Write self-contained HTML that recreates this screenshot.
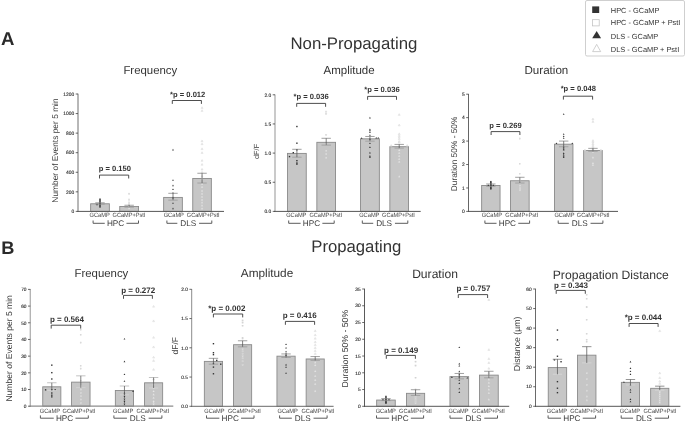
<!DOCTYPE html>
<html><head><meta charset="utf-8"><title>Figure</title>
<style>html,body{margin:0;padding:0;background:#fff;}svg{display:block;}</style></head><body>
<svg width="685" height="422" viewBox="0 0 685 422" text-rendering="geometricPrecision" font-family='"Liberation Sans", Arial, sans-serif'>
<rect width="685" height="422" fill="#fff"/>
<rect x="585.5" y="0.5" width="99" height="55.5" rx="1.5" fill="#fff" stroke="#cfcfcf" stroke-width="1"/>
<rect x="592.2" y="6.4" width="7" height="6.6" fill="#333"/>
<rect x="592.6" y="19.7" width="6.6" height="6.2" fill="#fff" stroke="#bdbdbd" stroke-width="0.7"/>
<path d="M592.2 38.3L601.1 38.3L596.65 30.9Z" fill="#333"/>
<path d="M592.6 51.6L600.7 51.6L596.65 44.4Z" fill="#fff" stroke="#bdbdbd" stroke-width="0.7"/>
<text x="610.8" y="12.6" font-size="7.42" text-anchor="start" font-weight="normal" fill="#333">HPC - GCaMP</text>
<text x="610.8" y="25.4" font-size="7.42" text-anchor="start" font-weight="normal" fill="#333">HPC - GCaMP + PstI</text>
<text x="610.8" y="38.7" font-size="7.42" text-anchor="start" font-weight="normal" fill="#333">DLS - GCaMP</text>
<text x="610.8" y="51.9" font-size="7.42" text-anchor="start" font-weight="normal" fill="#333">DLS - GCaMP + PstI</text>
<text x="0.9" y="45.1" font-size="18.6" text-anchor="start" font-weight="bold" fill="#2a2a2a">A</text>
<text x="1.3" y="253.9" font-size="18.2" text-anchor="start" font-weight="bold" fill="#2a2a2a">B</text>
<text x="353.9" y="49.2" font-size="16.8" text-anchor="middle" font-weight="normal" fill="#333">Non-Propagating</text>
<text x="356.3" y="251.7" font-size="16.7" text-anchor="middle" font-weight="normal" fill="#333">Propagating</text>
<rect x="90.65" y="203.78" width="18.70" height="7.62" fill="#c6c6c6" stroke="#8a8a8a" stroke-width="0.9"/>
<rect x="119.75" y="206.51" width="18.80" height="4.89" fill="#c6c6c6" stroke="#8a8a8a" stroke-width="0.9"/>
<rect x="163.65" y="197.42" width="18.70" height="13.98" fill="#c6c6c6" stroke="#8a8a8a" stroke-width="0.9"/>
<rect x="192.75" y="178.44" width="18.60" height="32.96" fill="#c6c6c6" stroke="#8a8a8a" stroke-width="0.9"/>
<rect x="99.30" y="198.47" width="1.4" height="1.4" fill="#333"/>
<rect x="99.30" y="199.45" width="1.4" height="1.4" fill="#333"/>
<rect x="99.30" y="200.43" width="1.4" height="1.4" fill="#333"/>
<rect x="99.30" y="201.41" width="1.4" height="1.4" fill="#333"/>
<rect x="99.30" y="202.38" width="1.4" height="1.4" fill="#333"/>
<rect x="99.30" y="203.36" width="1.4" height="1.4" fill="#333"/>
<rect x="99.30" y="204.34" width="1.4" height="1.4" fill="#333"/>
<rect x="99.30" y="205.32" width="1.4" height="1.4" fill="#333"/>
<rect x="99.30" y="206.30" width="1.4" height="1.4" fill="#333"/>
<rect x="96.30" y="203.85" width="1.4" height="1.4" fill="#333"/>
<rect x="128.50" y="193.14" width="1.3" height="1.3" fill="#f3f3f3" stroke="#d0d0d0" stroke-width="0.4"/>
<rect x="128.50" y="199.01" width="1.3" height="1.3" fill="#f3f3f3" stroke="#d0d0d0" stroke-width="0.4"/>
<rect x="128.50" y="201.94" width="1.3" height="1.3" fill="#f3f3f3" stroke="#d0d0d0" stroke-width="0.4"/>
<rect x="128.50" y="203.90" width="1.3" height="1.3" fill="#f3f3f3" stroke="#d0d0d0" stroke-width="0.4"/>
<rect x="128.50" y="204.88" width="1.3" height="1.3" fill="#f3f3f3" stroke="#d0d0d0" stroke-width="0.4"/>
<rect x="128.50" y="205.86" width="1.3" height="1.3" fill="#f3f3f3" stroke="#d0d0d0" stroke-width="0.4"/>
<rect x="128.50" y="206.84" width="1.3" height="1.3" fill="#f3f3f3" stroke="#d0d0d0" stroke-width="0.4"/>
<rect x="128.50" y="207.81" width="1.3" height="1.3" fill="#f3f3f3" stroke="#d0d0d0" stroke-width="0.4"/>
<path d="M172.10 150.46L173.90 150.46L173.00 148.86Z" fill="#333"/>
<path d="M172.10 180.79L173.90 180.79L173.00 179.19Z" fill="#333"/>
<path d="M172.10 186.17L173.90 186.17L173.00 184.57Z" fill="#333"/>
<path d="M172.10 190.09L173.90 190.09L173.00 188.49Z" fill="#333"/>
<path d="M172.10 193.51L173.90 193.51L173.00 191.91Z" fill="#333"/>
<path d="M172.10 198.40L173.90 198.40L173.00 196.80Z" fill="#333"/>
<path d="M172.10 203.78L173.90 203.78L173.00 202.18Z" fill="#333"/>
<path d="M172.10 209.16L173.90 209.16L173.00 207.56Z" fill="#333"/>
<path d="M201.05 108.45L203.05 108.45L202.05 106.70Z" fill="#f3f3f3" stroke="#d0d0d0" stroke-width="0.4"/>
<path d="M201.05 111.38L203.05 111.38L202.05 109.63Z" fill="#f3f3f3" stroke="#d0d0d0" stroke-width="0.4"/>
<path d="M201.05 141.71L203.05 141.71L202.05 139.96Z" fill="#f3f3f3" stroke="#d0d0d0" stroke-width="0.4"/>
<path d="M201.05 144.64L203.05 144.64L202.05 142.89Z" fill="#f3f3f3" stroke="#d0d0d0" stroke-width="0.4"/>
<path d="M201.05 149.54L203.05 149.54L202.05 147.79Z" fill="#f3f3f3" stroke="#d0d0d0" stroke-width="0.4"/>
<path d="M201.05 153.45L203.05 153.45L202.05 151.70Z" fill="#f3f3f3" stroke="#d0d0d0" stroke-width="0.4"/>
<path d="M201.05 161.28L203.05 161.28L202.05 159.53Z" fill="#f3f3f3" stroke="#d0d0d0" stroke-width="0.4"/>
<path d="M201.05 165.19L203.05 165.19L202.05 163.44Z" fill="#f3f3f3" stroke="#d0d0d0" stroke-width="0.4"/>
<path d="M201.05 170.08L203.05 170.08L202.05 168.33Z" fill="#f3f3f3" stroke="#d0d0d0" stroke-width="0.4"/>
<path d="M201.05 173.02L203.05 173.02L202.05 171.27Z" fill="#f3f3f3" stroke="#d0d0d0" stroke-width="0.4"/>
<path d="M201.05 176.93L203.05 176.93L202.05 175.18Z" fill="#f3f3f3" stroke="#d0d0d0" stroke-width="0.4"/>
<path d="M201.05 179.87L203.05 179.87L202.05 178.12Z" fill="#f3f3f3" stroke="#d0d0d0" stroke-width="0.4"/>
<path d="M201.05 184.76L203.05 184.76L202.05 183.01Z" fill="#f3f3f3" stroke="#d0d0d0" stroke-width="0.4"/>
<path d="M201.05 187.69L203.05 187.69L202.05 185.94Z" fill="#f3f3f3" stroke="#d0d0d0" stroke-width="0.4"/>
<path d="M201.05 191.61L203.05 191.61L202.05 189.86Z" fill="#f3f3f3" stroke="#d0d0d0" stroke-width="0.4"/>
<path d="M201.05 194.54L203.05 194.54L202.05 192.79Z" fill="#f3f3f3" stroke="#d0d0d0" stroke-width="0.4"/>
<path d="M201.05 197.47L203.05 197.47L202.05 195.72Z" fill="#f3f3f3" stroke="#d0d0d0" stroke-width="0.4"/>
<path d="M201.05 200.41L203.05 200.41L202.05 198.66Z" fill="#f3f3f3" stroke="#d0d0d0" stroke-width="0.4"/>
<path d="M201.05 203.34L203.05 203.34L202.05 201.59Z" fill="#f3f3f3" stroke="#d0d0d0" stroke-width="0.4"/>
<path d="M201.05 206.28L203.05 206.28L202.05 204.53Z" fill="#f3f3f3" stroke="#d0d0d0" stroke-width="0.4"/>
<path d="M201.05 209.22L203.05 209.22L202.05 207.47Z" fill="#f3f3f3" stroke="#d0d0d0" stroke-width="0.4"/>
<line x1="95.30" y1="202.79" x2="104.70" y2="202.79" stroke="#8a8a8a" stroke-width="0.8"/>
<line x1="95.30" y1="204.16" x2="104.70" y2="204.16" stroke="#9a9a9a" stroke-width="0.8"/>
<line x1="100.00" y1="204.16" x2="100.00" y2="202.79" stroke="#555" stroke-width="0.75"/>
<line x1="124.45" y1="205.24" x2="133.85" y2="205.24" stroke="#8a8a8a" stroke-width="0.8"/>
<line x1="124.45" y1="207.19" x2="133.85" y2="207.19" stroke="#9a9a9a" stroke-width="0.8"/>
<line x1="129.15" y1="207.19" x2="129.15" y2="205.24" stroke="#555" stroke-width="0.75"/>
<line x1="168.30" y1="193.30" x2="177.70" y2="193.30" stroke="#8a8a8a" stroke-width="0.8"/>
<line x1="168.30" y1="200.15" x2="177.70" y2="200.15" stroke="#9a9a9a" stroke-width="0.8"/>
<line x1="173.00" y1="200.15" x2="173.00" y2="193.30" stroke="#555" stroke-width="0.75"/>
<line x1="197.35" y1="173.25" x2="206.75" y2="173.25" stroke="#8a8a8a" stroke-width="0.8"/>
<line x1="197.35" y1="183.03" x2="206.75" y2="183.03" stroke="#9a9a9a" stroke-width="0.8"/>
<line x1="202.05" y1="183.03" x2="202.05" y2="173.25" stroke="#555" stroke-width="0.75"/>
<line x1="78" y1="93.7" x2="78" y2="211.9" stroke="#606060" stroke-width="0.9"/>
<line x1="77.55" y1="211.4" x2="224" y2="211.4" stroke="#555" stroke-width="1.0"/>
<line x1="75.70" y1="211.40" x2="78.00" y2="211.40" stroke="#444" stroke-width="0.8"/>
<text x="74.20" y="213.16" font-size="4.9" text-anchor="end" font-weight="normal" fill="#2e2e2e" stroke="#2e2e2e" stroke-width="0.12">0</text>
<line x1="75.70" y1="191.83" x2="78.00" y2="191.83" stroke="#444" stroke-width="0.8"/>
<text x="74.20" y="193.60" font-size="4.9" text-anchor="end" font-weight="normal" fill="#2e2e2e" stroke="#2e2e2e" stroke-width="0.12">200</text>
<line x1="75.70" y1="172.27" x2="78.00" y2="172.27" stroke="#444" stroke-width="0.8"/>
<text x="74.20" y="174.03" font-size="4.9" text-anchor="end" font-weight="normal" fill="#2e2e2e" stroke="#2e2e2e" stroke-width="0.12">400</text>
<line x1="75.70" y1="152.70" x2="78.00" y2="152.70" stroke="#444" stroke-width="0.8"/>
<text x="74.20" y="154.46" font-size="4.9" text-anchor="end" font-weight="normal" fill="#2e2e2e" stroke="#2e2e2e" stroke-width="0.12">600</text>
<line x1="75.70" y1="133.13" x2="78.00" y2="133.13" stroke="#444" stroke-width="0.8"/>
<text x="74.20" y="134.90" font-size="4.9" text-anchor="end" font-weight="normal" fill="#2e2e2e" stroke="#2e2e2e" stroke-width="0.12">800</text>
<line x1="75.70" y1="113.57" x2="78.00" y2="113.57" stroke="#444" stroke-width="0.8"/>
<text x="74.20" y="115.33" font-size="4.9" text-anchor="end" font-weight="normal" fill="#2e2e2e" stroke="#2e2e2e" stroke-width="0.12">1000</text>
<line x1="75.70" y1="94.00" x2="78.00" y2="94.00" stroke="#444" stroke-width="0.8"/>
<text x="74.20" y="95.76" font-size="4.9" text-anchor="end" font-weight="normal" fill="#2e2e2e" stroke="#2e2e2e" stroke-width="0.12">1200</text>
<text x="58.3" y="150.5" font-size="8.4" text-anchor="middle" font-weight="normal" fill="#3a3a3a" transform="rotate(-90 58.3 150.5)">Number of Events per 5 min</text>
<text transform="translate(99.70 217.25) scale(1 1.1)" font-size="5.7" text-anchor="middle" fill="#444">GCaMP</text>
<text transform="translate(129.00 217.25) scale(1 1.1)" font-size="5.6000000000000005" text-anchor="middle" fill="#444">GCaMP+PstI</text>
<text transform="translate(173.80 217.25) scale(1 1.1)" font-size="5.7" text-anchor="middle" fill="#444">GCaMP</text>
<text transform="translate(203.20 217.25) scale(1 1.1)" font-size="5.6000000000000005" text-anchor="middle" fill="#444">GCaMP+PstI</text>
<text x="115.60" y="225.7" font-size="8.2" text-anchor="middle" font-weight="normal" fill="#3a3a3a">HPC</text>
<path d="M93.10 220.50V223.30H104.74M126.46 223.30H138.50V220.50" fill="none" stroke="#4a4a4a" stroke-width="0.9"/>
<text x="188.20" y="225.7" font-size="8.2" text-anchor="middle" font-weight="normal" fill="#3a3a3a">DLS</text>
<path d="M166.90 220.50V223.30H177.34M199.06 223.30H211.80V220.50" fill="none" stroke="#4a4a4a" stroke-width="0.9"/>
<path d="M99.50 178.50V175.10H128.70V178.50" fill="none" stroke="#3a3a3a" stroke-width="0.9"/>
<text x="114.80" y="170.6" font-size="7.6" text-anchor="middle" font-weight="bold" fill="#333">p = 0.150</text>
<path d="M172.30 103.90V100.50H201.40V103.90" fill="none" stroke="#3a3a3a" stroke-width="0.9"/>
<text x="187.70" y="96.7" font-size="7.6" text-anchor="middle" font-weight="bold" fill="#333">*p = 0.012</text>
<text x="150.3" y="73.7" font-size="11.4" text-anchor="middle" font-weight="normal" fill="#333">Frequency</text>
<rect x="287.55" y="153.40" width="18.70" height="58.00" fill="#c6c6c6" stroke="#8a8a8a" stroke-width="0.9"/>
<rect x="316.85" y="142.32" width="18.70" height="69.08" fill="#c6c6c6" stroke="#8a8a8a" stroke-width="0.9"/>
<rect x="360.55" y="138.83" width="18.80" height="72.58" fill="#c6c6c6" stroke="#8a8a8a" stroke-width="0.9"/>
<rect x="389.85" y="146.70" width="18.70" height="64.70" fill="#c6c6c6" stroke="#8a8a8a" stroke-width="0.9"/>
<rect x="296.20" y="125.82" width="1.4" height="1.4" fill="#333"/>
<rect x="296.20" y="142.49" width="1.4" height="1.4" fill="#333"/>
<rect x="296.20" y="149.08" width="1.4" height="1.4" fill="#333"/>
<rect x="296.20" y="159.98" width="1.4" height="1.4" fill="#333"/>
<rect x="296.20" y="162.31" width="1.4" height="1.4" fill="#333"/>
<rect x="296.20" y="163.48" width="1.4" height="1.4" fill="#333"/>
<rect x="292.60" y="151.99" width="1.4" height="1.4" fill="#333"/>
<rect x="288.80" y="155.90" width="1.4" height="1.4" fill="#333"/>
<rect x="325.55" y="111.06" width="1.3" height="1.3" fill="#f3f3f3" stroke="#d0d0d0" stroke-width="0.4"/>
<rect x="325.55" y="113.39" width="1.3" height="1.3" fill="#f3f3f3" stroke="#d0d0d0" stroke-width="0.4"/>
<rect x="325.55" y="134.38" width="1.3" height="1.3" fill="#f3f3f3" stroke="#d0d0d0" stroke-width="0.4"/>
<rect x="325.55" y="143.71" width="1.3" height="1.3" fill="#f3f3f3" stroke="#d0d0d0" stroke-width="0.4"/>
<rect x="325.55" y="150.12" width="1.3" height="1.3" fill="#f3f3f3" stroke="#d0d0d0" stroke-width="0.4"/>
<rect x="325.55" y="153.32" width="1.3" height="1.3" fill="#f3f3f3" stroke="#d0d0d0" stroke-width="0.4"/>
<rect x="325.55" y="157.11" width="1.3" height="1.3" fill="#f3f3f3" stroke="#d0d0d0" stroke-width="0.4"/>
<path d="M369.05 118.41L370.85 118.41L369.95 116.81Z" fill="#333"/>
<path d="M369.05 130.19L370.85 130.19L369.95 128.59Z" fill="#333"/>
<path d="M369.05 131.35L370.85 131.35L369.95 129.75Z" fill="#333"/>
<path d="M369.05 132.99L370.85 132.99L369.95 131.39Z" fill="#333"/>
<path d="M369.05 135.73L370.85 135.73L369.95 134.13Z" fill="#333"/>
<path d="M369.05 139.81L370.85 139.81L369.95 138.21Z" fill="#333"/>
<path d="M369.05 144.12L370.85 144.12L369.95 142.52Z" fill="#333"/>
<path d="M369.05 147.97L370.85 147.97L369.95 146.37Z" fill="#333"/>
<path d="M369.05 153.39L370.85 153.39L369.95 151.79Z" fill="#333"/>
<path d="M369.05 156.72L370.85 156.72L369.95 155.12Z" fill="#333"/>
<path d="M369.05 157.88L370.85 157.88L369.95 156.28Z" fill="#333"/>
<path d="M360.75 138.82L362.55 138.82L361.65 137.22Z" fill="#333"/>
<path d="M375.35 138.53L377.15 138.53L376.25 136.93Z" fill="#333"/>
<path d="M377.35 138.53L379.15 138.53L378.25 136.93Z" fill="#333"/>
<path d="M398.20 115.37L400.20 115.37L399.20 113.62Z" fill="#f3f3f3" stroke="#d0d0d0" stroke-width="0.4"/>
<path d="M398.20 125.87L400.20 125.87L399.20 124.12Z" fill="#f3f3f3" stroke="#d0d0d0" stroke-width="0.4"/>
<path d="M398.20 134.61L400.20 134.61L399.20 132.86Z" fill="#f3f3f3" stroke="#d0d0d0" stroke-width="0.4"/>
<path d="M398.20 136.36L400.20 136.36L399.20 134.61Z" fill="#f3f3f3" stroke="#d0d0d0" stroke-width="0.4"/>
<path d="M398.20 138.11L400.20 138.11L399.20 136.36Z" fill="#f3f3f3" stroke="#d0d0d0" stroke-width="0.4"/>
<path d="M398.20 139.86L400.20 139.86L399.20 138.11Z" fill="#f3f3f3" stroke="#d0d0d0" stroke-width="0.4"/>
<path d="M398.20 142.19L400.20 142.19L399.20 140.44Z" fill="#f3f3f3" stroke="#d0d0d0" stroke-width="0.4"/>
<path d="M398.20 143.06L400.20 143.06L399.20 141.31Z" fill="#f3f3f3" stroke="#d0d0d0" stroke-width="0.4"/>
<path d="M398.20 150.94L400.20 150.94L399.20 149.19Z" fill="#f3f3f3" stroke="#d0d0d0" stroke-width="0.4"/>
<path d="M398.20 153.85L400.20 153.85L399.20 152.10Z" fill="#f3f3f3" stroke="#d0d0d0" stroke-width="0.4"/>
<path d="M398.20 156.77L400.20 156.77L399.20 155.02Z" fill="#f3f3f3" stroke="#d0d0d0" stroke-width="0.4"/>
<path d="M398.20 159.68L400.20 159.68L399.20 157.93Z" fill="#f3f3f3" stroke="#d0d0d0" stroke-width="0.4"/>
<path d="M398.20 162.59L400.20 162.59L399.20 160.84Z" fill="#f3f3f3" stroke="#d0d0d0" stroke-width="0.4"/>
<path d="M398.20 177.17L400.20 177.17L399.20 175.42Z" fill="#f3f3f3" stroke="#d0d0d0" stroke-width="0.4"/>
<path d="M390.20 146.27L392.20 146.27L391.20 144.52Z" fill="#f3f3f3" stroke="#d0d0d0" stroke-width="0.4"/>
<path d="M406.20 146.27L408.20 146.27L407.20 144.52Z" fill="#f3f3f3" stroke="#d0d0d0" stroke-width="0.4"/>
<line x1="292.20" y1="149.31" x2="301.60" y2="149.31" stroke="#8a8a8a" stroke-width="0.8"/>
<line x1="292.20" y1="157.18" x2="301.60" y2="157.18" stroke="#9a9a9a" stroke-width="0.8"/>
<line x1="296.90" y1="157.18" x2="296.90" y2="149.31" stroke="#555" stroke-width="0.75"/>
<line x1="321.50" y1="138.29" x2="330.90" y2="138.29" stroke="#8a8a8a" stroke-width="0.8"/>
<line x1="321.50" y1="145.11" x2="330.90" y2="145.11" stroke="#9a9a9a" stroke-width="0.8"/>
<line x1="326.20" y1="145.11" x2="326.20" y2="138.29" stroke="#555" stroke-width="0.75"/>
<line x1="365.25" y1="136.48" x2="374.65" y2="136.48" stroke="#8a8a8a" stroke-width="0.8"/>
<line x1="365.25" y1="141.15" x2="374.65" y2="141.15" stroke="#9a9a9a" stroke-width="0.8"/>
<line x1="369.95" y1="141.15" x2="369.95" y2="136.48" stroke="#555" stroke-width="0.75"/>
<line x1="394.50" y1="144.41" x2="403.90" y2="144.41" stroke="#8a8a8a" stroke-width="0.8"/>
<line x1="394.50" y1="148.09" x2="403.90" y2="148.09" stroke="#9a9a9a" stroke-width="0.8"/>
<line x1="399.20" y1="148.09" x2="399.20" y2="144.41" stroke="#555" stroke-width="0.75"/>
<line x1="275.0" y1="94.5" x2="275.0" y2="211.9" stroke="#b8b8b8" stroke-width="1.5"/>
<line x1="274.25" y1="211.4" x2="420.7" y2="211.4" stroke="#555" stroke-width="1.0"/>
<line x1="272.70" y1="211.40" x2="275.00" y2="211.40" stroke="#444" stroke-width="0.8"/>
<text x="271.20" y="213.16" font-size="4.9" text-anchor="end" font-weight="normal" fill="#2e2e2e" stroke="#2e2e2e" stroke-width="0.12">0.0</text>
<line x1="272.70" y1="182.25" x2="275.00" y2="182.25" stroke="#444" stroke-width="0.8"/>
<text x="271.20" y="184.01" font-size="4.9" text-anchor="end" font-weight="normal" fill="#2e2e2e" stroke="#2e2e2e" stroke-width="0.12">0.5</text>
<line x1="272.70" y1="153.10" x2="275.00" y2="153.10" stroke="#444" stroke-width="0.8"/>
<text x="271.20" y="154.86" font-size="4.9" text-anchor="end" font-weight="normal" fill="#2e2e2e" stroke="#2e2e2e" stroke-width="0.12">1.0</text>
<line x1="272.70" y1="123.95" x2="275.00" y2="123.95" stroke="#444" stroke-width="0.8"/>
<text x="271.20" y="125.71" font-size="4.9" text-anchor="end" font-weight="normal" fill="#2e2e2e" stroke="#2e2e2e" stroke-width="0.12">1.5</text>
<line x1="272.70" y1="94.80" x2="275.00" y2="94.80" stroke="#444" stroke-width="0.8"/>
<text x="271.20" y="96.56" font-size="4.9" text-anchor="end" font-weight="normal" fill="#2e2e2e" stroke="#2e2e2e" stroke-width="0.12">2.0</text>
<text x="258.9" y="151.45" font-size="7.4" text-anchor="middle" font-weight="normal" fill="#3a3a3a" transform="rotate(-90 258.9 151.45)">dF/F</text>
<text transform="translate(296.30 217.25) scale(1 1.1)" font-size="5.7" text-anchor="middle" fill="#444">GCaMP</text>
<text transform="translate(325.80 217.25) scale(1 1.1)" font-size="5.6000000000000005" text-anchor="middle" fill="#444">GCaMP+PstI</text>
<text transform="translate(369.30 217.25) scale(1 1.1)" font-size="5.7" text-anchor="middle" fill="#444">GCaMP</text>
<text transform="translate(398.50 217.25) scale(1 1.1)" font-size="5.6000000000000005" text-anchor="middle" fill="#444">GCaMP+PstI</text>
<text x="311.50" y="225.7" font-size="8.2" text-anchor="middle" font-weight="normal" fill="#3a3a3a">HPC</text>
<path d="M288.70 220.50V223.30H300.64M322.36 223.30H334.20V220.50" fill="none" stroke="#4a4a4a" stroke-width="0.9"/>
<text x="384.10" y="225.7" font-size="8.2" text-anchor="middle" font-weight="normal" fill="#3a3a3a">DLS</text>
<path d="M362.30 220.50V223.30H373.24M394.96 223.30H407.80V220.50" fill="none" stroke="#4a4a4a" stroke-width="0.9"/>
<path d="M296.70 106.80V103.40H325.60V106.80" fill="none" stroke="#3a3a3a" stroke-width="0.9"/>
<text x="311.10" y="99.2" font-size="7.6" text-anchor="middle" font-weight="bold" fill="#333">*p = 0.036</text>
<path d="M367.60 99.80V96.40H396.50V99.80" fill="none" stroke="#3a3a3a" stroke-width="0.9"/>
<text x="382.00" y="92.2" font-size="7.6" text-anchor="middle" font-weight="bold" fill="#333">*p = 0.036</text>
<text x="349.1" y="74.4" font-size="11.5" text-anchor="middle" font-weight="normal" fill="#333">Amplitude</text>
<rect x="481.65" y="185.45" width="18.40" height="25.95" fill="#c6c6c6" stroke="#8a8a8a" stroke-width="0.9"/>
<rect x="510.55" y="180.76" width="18.60" height="30.64" fill="#c6c6c6" stroke="#8a8a8a" stroke-width="0.9"/>
<rect x="554.45" y="144.19" width="18.50" height="67.21" fill="#c6c6c6" stroke="#8a8a8a" stroke-width="0.9"/>
<rect x="583.65" y="150.52" width="18.60" height="60.88" fill="#c6c6c6" stroke="#8a8a8a" stroke-width="0.9"/>
<rect x="490.15" y="180.93" width="1.4" height="1.4" fill="#333"/>
<rect x="490.15" y="181.87" width="1.4" height="1.4" fill="#333"/>
<rect x="490.15" y="182.81" width="1.4" height="1.4" fill="#333"/>
<rect x="490.15" y="183.74" width="1.4" height="1.4" fill="#333"/>
<rect x="490.15" y="184.68" width="1.4" height="1.4" fill="#333"/>
<rect x="490.15" y="185.62" width="1.4" height="1.4" fill="#333"/>
<rect x="490.15" y="186.56" width="1.4" height="1.4" fill="#333"/>
<rect x="490.15" y="187.49" width="1.4" height="1.4" fill="#333"/>
<rect x="490.15" y="188.20" width="1.4" height="1.4" fill="#333"/>
<rect x="487.65" y="184.68" width="1.4" height="1.4" fill="#333"/>
<rect x="492.65" y="184.68" width="1.4" height="1.4" fill="#333"/>
<rect x="519.20" y="137.92" width="1.3" height="1.3" fill="#f3f3f3" stroke="#d0d0d0" stroke-width="0.4"/>
<rect x="519.20" y="163.40" width="1.3" height="1.3" fill="#f3f3f3" stroke="#d0d0d0" stroke-width="0.4"/>
<rect x="519.20" y="173.25" width="1.3" height="1.3" fill="#f3f3f3" stroke="#d0d0d0" stroke-width="0.4"/>
<rect x="519.20" y="180.28" width="1.3" height="1.3" fill="#f3f3f3" stroke="#d0d0d0" stroke-width="0.4"/>
<rect x="519.20" y="182.62" width="1.3" height="1.3" fill="#f3f3f3" stroke="#d0d0d0" stroke-width="0.4"/>
<rect x="519.20" y="184.97" width="1.3" height="1.3" fill="#f3f3f3" stroke="#d0d0d0" stroke-width="0.4"/>
<rect x="519.20" y="187.31" width="1.3" height="1.3" fill="#f3f3f3" stroke="#d0d0d0" stroke-width="0.4"/>
<rect x="519.20" y="188.48" width="1.3" height="1.3" fill="#f3f3f3" stroke="#d0d0d0" stroke-width="0.4"/>
<rect x="519.20" y="189.65" width="1.3" height="1.3" fill="#f3f3f3" stroke="#d0d0d0" stroke-width="0.4"/>
<path d="M562.80 114.82L564.60 114.82L563.70 113.22Z" fill="#333"/>
<path d="M562.80 134.75L564.60 134.75L563.70 133.15Z" fill="#333"/>
<path d="M562.80 137.09L564.60 137.09L563.70 135.49Z" fill="#333"/>
<path d="M562.80 138.73L564.60 138.73L563.70 137.13Z" fill="#333"/>
<path d="M562.80 147.17L564.60 147.17L563.70 145.57Z" fill="#333"/>
<path d="M562.80 148.34L564.60 148.34L563.70 146.74Z" fill="#333"/>
<path d="M562.80 149.52L564.60 149.52L563.70 147.92Z" fill="#333"/>
<path d="M562.80 150.45L564.60 150.45L563.70 148.85Z" fill="#333"/>
<path d="M562.80 153.97L564.60 153.97L563.70 152.37Z" fill="#333"/>
<path d="M562.80 155.38L564.60 155.38L563.70 153.78Z" fill="#333"/>
<path d="M562.80 156.78L564.60 156.78L563.70 155.18Z" fill="#333"/>
<path d="M562.80 157.95L564.60 157.95L563.70 156.35Z" fill="#333"/>
<path d="M555.60 144.12L557.40 144.12L556.50 142.52Z" fill="#333"/>
<path d="M571.40 144.12L573.20 144.12L572.30 142.52Z" fill="#333"/>
<path d="M591.95 119.80L593.95 119.80L592.95 118.05Z" fill="#f3f3f3" stroke="#d0d0d0" stroke-width="0.4"/>
<path d="M591.95 122.37L593.95 122.37L592.95 120.62Z" fill="#f3f3f3" stroke="#d0d0d0" stroke-width="0.4"/>
<path d="M591.95 141.36L593.95 141.36L592.95 139.61Z" fill="#f3f3f3" stroke="#d0d0d0" stroke-width="0.4"/>
<path d="M591.95 143.00L593.95 143.00L592.95 141.25Z" fill="#f3f3f3" stroke="#d0d0d0" stroke-width="0.4"/>
<path d="M591.95 144.64L593.95 144.64L592.95 142.89Z" fill="#f3f3f3" stroke="#d0d0d0" stroke-width="0.4"/>
<path d="M591.95 146.28L593.95 146.28L592.95 144.53Z" fill="#f3f3f3" stroke="#d0d0d0" stroke-width="0.4"/>
<path d="M591.95 147.92L593.95 147.92L592.95 146.17Z" fill="#f3f3f3" stroke="#d0d0d0" stroke-width="0.4"/>
<path d="M591.95 149.57L593.95 149.57L592.95 147.82Z" fill="#f3f3f3" stroke="#d0d0d0" stroke-width="0.4"/>
<path d="M591.95 152.38L593.95 152.38L592.95 150.63Z" fill="#f3f3f3" stroke="#d0d0d0" stroke-width="0.4"/>
<path d="M591.95 158.24L593.95 158.24L592.95 156.49Z" fill="#f3f3f3" stroke="#d0d0d0" stroke-width="0.4"/>
<path d="M591.95 164.10L593.95 164.10L592.95 162.35Z" fill="#f3f3f3" stroke="#d0d0d0" stroke-width="0.4"/>
<path d="M591.95 165.74L593.95 165.74L592.95 163.99Z" fill="#f3f3f3" stroke="#d0d0d0" stroke-width="0.4"/>
<path d="M583.95 150.74L585.95 150.74L584.95 148.99Z" fill="#f3f3f3" stroke="#d0d0d0" stroke-width="0.4"/>
<path d="M599.95 150.74L601.95 150.74L600.95 148.99Z" fill="#f3f3f3" stroke="#d0d0d0" stroke-width="0.4"/>
<line x1="486.15" y1="183.98" x2="495.55" y2="183.98" stroke="#8a8a8a" stroke-width="0.8"/>
<line x1="486.15" y1="186.32" x2="495.55" y2="186.32" stroke="#9a9a9a" stroke-width="0.8"/>
<line x1="490.85" y1="186.32" x2="490.85" y2="183.98" stroke="#555" stroke-width="0.75"/>
<line x1="515.15" y1="177.29" x2="524.55" y2="177.29" stroke="#8a8a8a" stroke-width="0.8"/>
<line x1="515.15" y1="183.04" x2="524.55" y2="183.04" stroke="#9a9a9a" stroke-width="0.8"/>
<line x1="519.85" y1="183.04" x2="519.85" y2="177.29" stroke="#555" stroke-width="0.75"/>
<line x1="559.00" y1="141.08" x2="568.40" y2="141.08" stroke="#8a8a8a" stroke-width="0.8"/>
<line x1="559.00" y1="146.71" x2="568.40" y2="146.71" stroke="#9a9a9a" stroke-width="0.8"/>
<line x1="563.70" y1="146.71" x2="563.70" y2="141.08" stroke="#555" stroke-width="0.75"/>
<line x1="588.25" y1="148.35" x2="597.65" y2="148.35" stroke="#8a8a8a" stroke-width="0.8"/>
<line x1="588.25" y1="151.39" x2="597.65" y2="151.39" stroke="#9a9a9a" stroke-width="0.8"/>
<line x1="592.95" y1="151.39" x2="592.95" y2="148.35" stroke="#555" stroke-width="0.75"/>
<line x1="468.5" y1="93.9" x2="468.5" y2="211.9" stroke="#666" stroke-width="1.0"/>
<line x1="468.0" y1="211.4" x2="618" y2="211.4" stroke="#555" stroke-width="1.0"/>
<line x1="466.20" y1="211.40" x2="468.50" y2="211.40" stroke="#444" stroke-width="0.8"/>
<text x="464.70" y="213.16" font-size="4.9" text-anchor="end" font-weight="normal" fill="#2e2e2e" stroke="#2e2e2e" stroke-width="0.12">0</text>
<line x1="466.20" y1="187.96" x2="468.50" y2="187.96" stroke="#444" stroke-width="0.8"/>
<text x="464.70" y="189.72" font-size="4.9" text-anchor="end" font-weight="normal" fill="#2e2e2e" stroke="#2e2e2e" stroke-width="0.12">1</text>
<line x1="466.20" y1="164.52" x2="468.50" y2="164.52" stroke="#444" stroke-width="0.8"/>
<text x="464.70" y="166.28" font-size="4.9" text-anchor="end" font-weight="normal" fill="#2e2e2e" stroke="#2e2e2e" stroke-width="0.12">2</text>
<line x1="466.20" y1="141.08" x2="468.50" y2="141.08" stroke="#444" stroke-width="0.8"/>
<text x="464.70" y="142.84" font-size="4.9" text-anchor="end" font-weight="normal" fill="#2e2e2e" stroke="#2e2e2e" stroke-width="0.12">3</text>
<line x1="466.20" y1="117.64" x2="468.50" y2="117.64" stroke="#444" stroke-width="0.8"/>
<text x="464.70" y="119.40" font-size="4.9" text-anchor="end" font-weight="normal" fill="#2e2e2e" stroke="#2e2e2e" stroke-width="0.12">4</text>
<line x1="466.20" y1="94.20" x2="468.50" y2="94.20" stroke="#444" stroke-width="0.8"/>
<text x="464.70" y="95.96" font-size="4.9" text-anchor="end" font-weight="normal" fill="#2e2e2e" stroke="#2e2e2e" stroke-width="0.12">5</text>
<text x="457" y="153.9" font-size="8.35" text-anchor="middle" font-weight="normal" fill="#3a3a3a" transform="rotate(-90 457 153.9)">Duration 50% - 50%</text>
<text transform="translate(491.90 217.25) scale(1 1.1)" font-size="5.7" text-anchor="middle" fill="#444">GCaMP</text>
<text transform="translate(521.70 217.25) scale(1 1.1)" font-size="5.6000000000000005" text-anchor="middle" fill="#444">GCaMP+PstI</text>
<text transform="translate(564.50 217.25) scale(1 1.1)" font-size="5.7" text-anchor="middle" fill="#444">GCaMP</text>
<text transform="translate(593.20 217.25) scale(1 1.1)" font-size="5.6000000000000005" text-anchor="middle" fill="#444">GCaMP+PstI</text>
<text x="507.40" y="225.7" font-size="8.2" text-anchor="middle" font-weight="normal" fill="#3a3a3a">HPC</text>
<path d="M484.90 220.50V223.30H496.54M518.26 223.30H529.60V220.50" fill="none" stroke="#4a4a4a" stroke-width="0.9"/>
<text x="579.70" y="225.7" font-size="8.2" text-anchor="middle" font-weight="normal" fill="#3a3a3a">DLS</text>
<path d="M558.20 220.50V223.30H568.84M590.56 223.30H602.90V220.50" fill="none" stroke="#4a4a4a" stroke-width="0.9"/>
<path d="M491.10 135.00V131.60H519.90V135.00" fill="none" stroke="#3a3a3a" stroke-width="0.9"/>
<text x="505.50" y="127.6" font-size="7.6" text-anchor="middle" font-weight="bold" fill="#333">p = 0.269</text>
<path d="M563.40 99.60V96.20H592.60V99.60" fill="none" stroke="#3a3a3a" stroke-width="0.9"/>
<text x="578.30" y="90.8" font-size="7.6" text-anchor="middle" font-weight="bold" fill="#333">*p = 0.048</text>
<text x="546.4" y="74.4" font-size="11.6" text-anchor="middle" font-weight="normal" fill="#333">Duration</text>
<rect x="42.75" y="386.81" width="18.10" height="19.39" fill="#c6c6c6" stroke="#8a8a8a" stroke-width="0.9"/>
<rect x="71.55" y="382.14" width="18.50" height="24.06" fill="#c6c6c6" stroke="#8a8a8a" stroke-width="0.9"/>
<rect x="115.35" y="390.48" width="18.20" height="15.72" fill="#c6c6c6" stroke="#8a8a8a" stroke-width="0.9"/>
<rect x="144.55" y="382.81" width="18.10" height="23.39" fill="#c6c6c6" stroke="#8a8a8a" stroke-width="0.9"/>
<rect x="51.10" y="364.45" width="1.4" height="1.4" fill="#333"/>
<rect x="51.10" y="371.96" width="1.4" height="1.4" fill="#333"/>
<rect x="51.10" y="378.30" width="1.4" height="1.4" fill="#333"/>
<rect x="51.10" y="389.15" width="1.4" height="1.4" fill="#333"/>
<rect x="51.10" y="392.32" width="1.4" height="1.4" fill="#333"/>
<rect x="51.10" y="394.49" width="1.4" height="1.4" fill="#333"/>
<rect x="51.10" y="396.16" width="1.4" height="1.4" fill="#333"/>
<rect x="44.90" y="389.15" width="1.4" height="1.4" fill="#333"/>
<rect x="54.50" y="389.15" width="1.4" height="1.4" fill="#333"/>
<rect x="80.15" y="329.13" width="1.3" height="1.3" fill="#f3f3f3" stroke="#d0d0d0" stroke-width="0.4"/>
<rect x="80.15" y="334.47" width="1.3" height="1.3" fill="#f3f3f3" stroke="#d0d0d0" stroke-width="0.4"/>
<rect x="80.15" y="341.98" width="1.3" height="1.3" fill="#f3f3f3" stroke="#d0d0d0" stroke-width="0.4"/>
<rect x="80.15" y="365.50" width="1.3" height="1.3" fill="#f3f3f3" stroke="#d0d0d0" stroke-width="0.4"/>
<rect x="80.15" y="368.01" width="1.3" height="1.3" fill="#f3f3f3" stroke="#d0d0d0" stroke-width="0.4"/>
<rect x="80.15" y="380.52" width="1.3" height="1.3" fill="#f3f3f3" stroke="#d0d0d0" stroke-width="0.4"/>
<rect x="80.15" y="385.53" width="1.3" height="1.3" fill="#f3f3f3" stroke="#d0d0d0" stroke-width="0.4"/>
<rect x="80.15" y="388.86" width="1.3" height="1.3" fill="#f3f3f3" stroke="#d0d0d0" stroke-width="0.4"/>
<rect x="80.15" y="392.20" width="1.3" height="1.3" fill="#f3f3f3" stroke="#d0d0d0" stroke-width="0.4"/>
<rect x="80.15" y="395.54" width="1.3" height="1.3" fill="#f3f3f3" stroke="#d0d0d0" stroke-width="0.4"/>
<rect x="80.15" y="398.88" width="1.3" height="1.3" fill="#f3f3f3" stroke="#d0d0d0" stroke-width="0.4"/>
<rect x="80.15" y="402.21" width="1.3" height="1.3" fill="#f3f3f3" stroke="#d0d0d0" stroke-width="0.4"/>
<path d="M123.55 339.49L125.35 339.49L124.45 337.89Z" fill="#333"/>
<path d="M123.55 362.18L125.35 362.18L124.45 360.58Z" fill="#333"/>
<path d="M123.55 375.03L125.35 375.03L124.45 373.43Z" fill="#333"/>
<path d="M123.55 381.87L125.35 381.87L124.45 380.27Z" fill="#333"/>
<path d="M123.55 393.55L125.35 393.55L124.45 391.95Z" fill="#333"/>
<path d="M123.55 395.22L125.35 395.22L124.45 393.62Z" fill="#333"/>
<path d="M123.55 396.89L125.35 396.89L124.45 395.29Z" fill="#333"/>
<path d="M123.55 398.56L125.35 398.56L124.45 396.96Z" fill="#333"/>
<path d="M123.55 400.23L125.35 400.23L124.45 398.63Z" fill="#333"/>
<path d="M123.55 401.89L125.35 401.89L124.45 400.29Z" fill="#333"/>
<path d="M123.55 403.56L125.35 403.56L124.45 401.96Z" fill="#333"/>
<path d="M123.55 405.23L125.35 405.23L124.45 403.63Z" fill="#333"/>
<path d="M132.15 391.88L133.95 391.88L133.05 390.28Z" fill="#333"/>
<path d="M152.60 307.17L154.60 307.17L153.60 305.42Z" fill="#f3f3f3" stroke="#d0d0d0" stroke-width="0.4"/>
<path d="M152.60 321.69L154.60 321.69L153.60 319.94Z" fill="#f3f3f3" stroke="#d0d0d0" stroke-width="0.4"/>
<path d="M152.60 338.20L154.60 338.20L153.60 336.45Z" fill="#f3f3f3" stroke="#d0d0d0" stroke-width="0.4"/>
<path d="M152.60 347.72L154.60 347.72L153.60 345.97Z" fill="#f3f3f3" stroke="#d0d0d0" stroke-width="0.4"/>
<path d="M152.60 358.06L154.60 358.06L153.60 356.31Z" fill="#f3f3f3" stroke="#d0d0d0" stroke-width="0.4"/>
<path d="M152.60 361.40L154.60 361.40L153.60 359.65Z" fill="#f3f3f3" stroke="#d0d0d0" stroke-width="0.4"/>
<path d="M152.60 370.24L154.60 370.24L153.60 368.49Z" fill="#f3f3f3" stroke="#d0d0d0" stroke-width="0.4"/>
<path d="M152.60 379.92L154.60 379.92L153.60 378.17Z" fill="#f3f3f3" stroke="#d0d0d0" stroke-width="0.4"/>
<path d="M152.60 385.26L154.60 385.26L153.60 383.51Z" fill="#f3f3f3" stroke="#d0d0d0" stroke-width="0.4"/>
<path d="M152.60 388.60L154.60 388.60L153.60 386.85Z" fill="#f3f3f3" stroke="#d0d0d0" stroke-width="0.4"/>
<path d="M152.60 391.93L154.60 391.93L153.60 390.18Z" fill="#f3f3f3" stroke="#d0d0d0" stroke-width="0.4"/>
<path d="M152.60 395.27L154.60 395.27L153.60 393.52Z" fill="#f3f3f3" stroke="#d0d0d0" stroke-width="0.4"/>
<path d="M152.60 398.61L154.60 398.61L153.60 396.86Z" fill="#f3f3f3" stroke="#d0d0d0" stroke-width="0.4"/>
<path d="M152.60 401.94L154.60 401.94L153.60 400.19Z" fill="#f3f3f3" stroke="#d0d0d0" stroke-width="0.4"/>
<path d="M152.60 403.61L154.60 403.61L153.60 401.86Z" fill="#f3f3f3" stroke="#d0d0d0" stroke-width="0.4"/>
<path d="M152.60 405.28L154.60 405.28L153.60 403.53Z" fill="#f3f3f3" stroke="#d0d0d0" stroke-width="0.4"/>
<line x1="47.10" y1="382.76" x2="56.50" y2="382.76" stroke="#b4b4b4" stroke-width="0.8"/>
<line x1="47.10" y1="390.52" x2="56.50" y2="390.52" stroke="#d6d6d6" stroke-width="0.8"/>
<line x1="51.80" y1="390.52" x2="51.80" y2="382.76" stroke="#555" stroke-width="0.75"/>
<line x1="76.10" y1="375.83" x2="85.50" y2="375.83" stroke="#b4b4b4" stroke-width="0.8"/>
<line x1="76.10" y1="387.68" x2="85.50" y2="387.68" stroke="#d6d6d6" stroke-width="0.8"/>
<line x1="80.80" y1="387.68" x2="80.80" y2="375.83" stroke="#555" stroke-width="0.75"/>
<line x1="119.75" y1="386.01" x2="129.15" y2="386.01" stroke="#b4b4b4" stroke-width="0.8"/>
<line x1="119.75" y1="394.85" x2="129.15" y2="394.85" stroke="#d6d6d6" stroke-width="0.8"/>
<line x1="124.45" y1="394.85" x2="124.45" y2="386.01" stroke="#555" stroke-width="0.75"/>
<line x1="148.90" y1="377.50" x2="158.30" y2="377.50" stroke="#b4b4b4" stroke-width="0.8"/>
<line x1="148.90" y1="388.01" x2="158.30" y2="388.01" stroke="#d6d6d6" stroke-width="0.8"/>
<line x1="153.60" y1="388.01" x2="153.60" y2="377.50" stroke="#555" stroke-width="0.75"/>
<line x1="30.3" y1="289.09999999999997" x2="30.3" y2="406.7" stroke="#b0b0b0" stroke-width="1.3"/>
<line x1="29.650000000000002" y1="406.2" x2="173.3" y2="406.2" stroke="#8c8c8c" stroke-width="1.3"/>
<line x1="28.00" y1="406.20" x2="30.30" y2="406.20" stroke="#444" stroke-width="0.8"/>
<text x="26.50" y="407.93" font-size="4.8" text-anchor="end" font-weight="normal" fill="#2e2e2e" stroke="#2e2e2e" stroke-width="0.12">0</text>
<line x1="28.00" y1="389.51" x2="30.30" y2="389.51" stroke="#444" stroke-width="0.8"/>
<text x="26.50" y="391.24" font-size="4.8" text-anchor="end" font-weight="normal" fill="#2e2e2e" stroke="#2e2e2e" stroke-width="0.12">10</text>
<line x1="28.00" y1="372.83" x2="30.30" y2="372.83" stroke="#444" stroke-width="0.8"/>
<text x="26.50" y="374.56" font-size="4.8" text-anchor="end" font-weight="normal" fill="#2e2e2e" stroke="#2e2e2e" stroke-width="0.12">20</text>
<line x1="28.00" y1="356.14" x2="30.30" y2="356.14" stroke="#444" stroke-width="0.8"/>
<text x="26.50" y="357.87" font-size="4.8" text-anchor="end" font-weight="normal" fill="#2e2e2e" stroke="#2e2e2e" stroke-width="0.12">30</text>
<line x1="28.00" y1="339.46" x2="30.30" y2="339.46" stroke="#444" stroke-width="0.8"/>
<text x="26.50" y="341.19" font-size="4.8" text-anchor="end" font-weight="normal" fill="#2e2e2e" stroke="#2e2e2e" stroke-width="0.12">40</text>
<line x1="28.00" y1="322.77" x2="30.30" y2="322.77" stroke="#444" stroke-width="0.8"/>
<text x="26.50" y="324.50" font-size="4.8" text-anchor="end" font-weight="normal" fill="#2e2e2e" stroke="#2e2e2e" stroke-width="0.12">50</text>
<line x1="28.00" y1="306.09" x2="30.30" y2="306.09" stroke="#444" stroke-width="0.8"/>
<text x="26.50" y="307.81" font-size="4.8" text-anchor="end" font-weight="normal" fill="#2e2e2e" stroke="#2e2e2e" stroke-width="0.12">60</text>
<line x1="28.00" y1="289.40" x2="30.30" y2="289.40" stroke="#444" stroke-width="0.8"/>
<text x="26.50" y="291.13" font-size="4.8" text-anchor="end" font-weight="normal" fill="#2e2e2e" stroke="#2e2e2e" stroke-width="0.12">70</text>
<text x="11.8" y="348.4" font-size="8.55" text-anchor="middle" font-weight="normal" fill="#3a3a3a" transform="rotate(-90 11.8 348.4)">Number of Events per 5 min</text>
<text transform="translate(49.90 412.95) scale(1 1.1)" font-size="5.7" text-anchor="middle" fill="#444">GCaMP</text>
<text transform="translate(78.95 412.95) scale(1 1.1)" font-size="5.6000000000000005" text-anchor="middle" fill="#444">GCaMP+PstI</text>
<text transform="translate(123.20 412.95) scale(1 1.1)" font-size="5.7" text-anchor="middle" fill="#444">GCaMP</text>
<text transform="translate(152.80 412.95) scale(1 1.1)" font-size="5.6000000000000005" text-anchor="middle" fill="#444">GCaMP+PstI</text>
<text x="64.60" y="420.6" font-size="8.2" text-anchor="middle" font-weight="normal" fill="#3a3a3a">HPC</text>
<path d="M40.40 415.40V418.20H53.74M75.46 418.20H88.30V415.40" fill="none" stroke="#4a4a4a" stroke-width="0.9"/>
<text x="137.80" y="420.6" font-size="8.2" text-anchor="middle" font-weight="normal" fill="#3a3a3a">DLS</text>
<path d="M113.90 415.40V418.20H126.94M148.66 418.20H161.90V415.40" fill="none" stroke="#4a4a4a" stroke-width="0.9"/>
<path d="M51.20 328.60V325.20H80.70V328.60" fill="none" stroke="#3a3a3a" stroke-width="0.9"/>
<text x="66.90" y="322.1" font-size="8.0" text-anchor="middle" font-weight="bold" fill="#333">p = 0.564</text>
<path d="M123.50 298.80V295.40H152.40V298.80" fill="none" stroke="#3a3a3a" stroke-width="0.9"/>
<text x="138.20" y="293.0" font-size="8.0" text-anchor="middle" font-weight="bold" fill="#333">p = 0.272</text>
<text x="101.4" y="277.4" font-size="11.4" text-anchor="middle" font-weight="normal" fill="#333">Frequency</text>
<rect x="204.35" y="361.38" width="18.20" height="44.92" fill="#c6c6c6" stroke="#8a8a8a" stroke-width="0.9"/>
<rect x="233.55" y="344.71" width="18.10" height="61.59" fill="#c6c6c6" stroke="#8a8a8a" stroke-width="0.9"/>
<rect x="276.95" y="356.17" width="18.20" height="50.13" fill="#c6c6c6" stroke="#8a8a8a" stroke-width="0.9"/>
<rect x="306.15" y="358.98" width="18.10" height="47.32" fill="#c6c6c6" stroke="#8a8a8a" stroke-width="0.9"/>
<rect x="212.75" y="343.00" width="1.4" height="1.4" fill="#333"/>
<rect x="212.75" y="352.01" width="1.4" height="1.4" fill="#333"/>
<rect x="212.75" y="353.94" width="1.4" height="1.4" fill="#333"/>
<rect x="212.75" y="362.90" width="1.4" height="1.4" fill="#333"/>
<rect x="212.75" y="366.41" width="1.4" height="1.4" fill="#333"/>
<rect x="212.75" y="373.07" width="1.4" height="1.4" fill="#333"/>
<rect x="216.05" y="359.68" width="1.4" height="1.4" fill="#333"/>
<rect x="220.05" y="363.48" width="1.4" height="1.4" fill="#333"/>
<rect x="241.95" y="319.83" width="1.3" height="1.3" fill="#f3f3f3" stroke="#d0d0d0" stroke-width="0.4"/>
<rect x="241.95" y="322.00" width="1.3" height="1.3" fill="#f3f3f3" stroke="#d0d0d0" stroke-width="0.4"/>
<rect x="241.95" y="325.33" width="1.3" height="1.3" fill="#f3f3f3" stroke="#d0d0d0" stroke-width="0.4"/>
<rect x="241.95" y="337.79" width="1.3" height="1.3" fill="#f3f3f3" stroke="#d0d0d0" stroke-width="0.4"/>
<rect x="241.95" y="348.32" width="1.3" height="1.3" fill="#f3f3f3" stroke="#d0d0d0" stroke-width="0.4"/>
<rect x="241.95" y="350.66" width="1.3" height="1.3" fill="#f3f3f3" stroke="#d0d0d0" stroke-width="0.4"/>
<rect x="241.95" y="353.00" width="1.3" height="1.3" fill="#f3f3f3" stroke="#d0d0d0" stroke-width="0.4"/>
<rect x="241.95" y="355.34" width="1.3" height="1.3" fill="#f3f3f3" stroke="#d0d0d0" stroke-width="0.4"/>
<rect x="241.95" y="357.68" width="1.3" height="1.3" fill="#f3f3f3" stroke="#d0d0d0" stroke-width="0.4"/>
<rect x="241.95" y="360.61" width="1.3" height="1.3" fill="#f3f3f3" stroke="#d0d0d0" stroke-width="0.4"/>
<rect x="241.95" y="364.12" width="1.3" height="1.3" fill="#f3f3f3" stroke="#d0d0d0" stroke-width="0.4"/>
<path d="M285.15 345.11L286.95 345.11L286.05 343.51Z" fill="#333"/>
<path d="M285.15 348.50L286.95 348.50L286.05 346.90Z" fill="#333"/>
<path d="M285.15 352.24L286.95 352.24L286.05 350.64Z" fill="#333"/>
<path d="M285.15 354.35L286.95 354.35L286.05 352.75Z" fill="#333"/>
<path d="M285.15 356.11L286.95 356.11L286.05 354.51Z" fill="#333"/>
<path d="M285.15 365.46L286.95 365.46L286.05 363.87Z" fill="#333"/>
<path d="M285.15 367.81L286.95 367.81L286.05 366.21Z" fill="#333"/>
<path d="M285.15 373.77L286.95 373.77L286.05 372.17Z" fill="#333"/>
<path d="M314.20 331.59L316.20 331.59L315.20 329.84Z" fill="#f3f3f3" stroke="#d0d0d0" stroke-width="0.4"/>
<path d="M314.20 335.68L316.20 335.68L315.20 333.93Z" fill="#f3f3f3" stroke="#d0d0d0" stroke-width="0.4"/>
<path d="M314.20 339.19L316.20 339.19L315.20 337.44Z" fill="#f3f3f3" stroke="#d0d0d0" stroke-width="0.4"/>
<path d="M314.20 342.70L316.20 342.70L315.20 340.95Z" fill="#f3f3f3" stroke="#d0d0d0" stroke-width="0.4"/>
<path d="M314.20 345.62L316.20 345.62L315.20 343.88Z" fill="#f3f3f3" stroke="#d0d0d0" stroke-width="0.4"/>
<path d="M314.20 348.55L316.20 348.55L315.20 346.80Z" fill="#f3f3f3" stroke="#d0d0d0" stroke-width="0.4"/>
<path d="M314.20 351.48L316.20 351.48L315.20 349.73Z" fill="#f3f3f3" stroke="#d0d0d0" stroke-width="0.4"/>
<path d="M314.20 354.40L316.20 354.40L315.20 352.65Z" fill="#f3f3f3" stroke="#d0d0d0" stroke-width="0.4"/>
<path d="M314.20 363.18L316.20 363.18L315.20 361.43Z" fill="#f3f3f3" stroke="#d0d0d0" stroke-width="0.4"/>
<path d="M314.20 366.10L316.20 366.10L315.20 364.35Z" fill="#f3f3f3" stroke="#d0d0d0" stroke-width="0.4"/>
<path d="M314.20 371.95L316.20 371.95L315.20 370.20Z" fill="#f3f3f3" stroke="#d0d0d0" stroke-width="0.4"/>
<path d="M314.20 376.63L316.20 376.63L315.20 374.88Z" fill="#f3f3f3" stroke="#d0d0d0" stroke-width="0.4"/>
<path d="M314.20 380.73L316.20 380.73L315.20 378.98Z" fill="#f3f3f3" stroke="#d0d0d0" stroke-width="0.4"/>
<path d="M314.20 384.82L316.20 384.82L315.20 383.07Z" fill="#f3f3f3" stroke="#d0d0d0" stroke-width="0.4"/>
<path d="M314.20 391.84L316.20 391.84L315.20 390.09Z" fill="#f3f3f3" stroke="#d0d0d0" stroke-width="0.4"/>
<line x1="208.75" y1="358.33" x2="218.15" y2="358.33" stroke="#8a8a8a" stroke-width="0.8"/>
<line x1="208.75" y1="364.18" x2="218.15" y2="364.18" stroke="#9a9a9a" stroke-width="0.8"/>
<line x1="213.45" y1="364.18" x2="213.45" y2="358.33" stroke="#555" stroke-width="0.75"/>
<line x1="237.90" y1="340.78" x2="247.30" y2="340.78" stroke="#8a8a8a" stroke-width="0.8"/>
<line x1="237.90" y1="346.81" x2="247.30" y2="346.81" stroke="#9a9a9a" stroke-width="0.8"/>
<line x1="242.60" y1="346.81" x2="242.60" y2="340.78" stroke="#555" stroke-width="0.75"/>
<line x1="281.35" y1="353.94" x2="290.75" y2="353.94" stroke="#8a8a8a" stroke-width="0.8"/>
<line x1="281.35" y1="357.51" x2="290.75" y2="357.51" stroke="#9a9a9a" stroke-width="0.8"/>
<line x1="286.05" y1="357.51" x2="286.05" y2="353.94" stroke="#555" stroke-width="0.75"/>
<line x1="310.50" y1="356.57" x2="319.90" y2="356.57" stroke="#8a8a8a" stroke-width="0.8"/>
<line x1="310.50" y1="360.38" x2="319.90" y2="360.38" stroke="#9a9a9a" stroke-width="0.8"/>
<line x1="315.20" y1="360.38" x2="315.20" y2="356.57" stroke="#555" stroke-width="0.75"/>
<line x1="191.7" y1="289.0" x2="191.7" y2="406.8" stroke="#8c8c8c" stroke-width="1.0"/>
<line x1="191.2" y1="406.3" x2="333.6" y2="406.3" stroke="#686868" stroke-width="1.0"/>
<line x1="189.40" y1="406.30" x2="191.70" y2="406.30" stroke="#444" stroke-width="0.8"/>
<text x="187.90" y="408.03" font-size="4.8" text-anchor="end" font-weight="normal" fill="#2e2e2e" stroke="#2e2e2e" stroke-width="0.12">0.0</text>
<line x1="189.40" y1="377.05" x2="191.70" y2="377.05" stroke="#444" stroke-width="0.8"/>
<text x="187.90" y="378.78" font-size="4.8" text-anchor="end" font-weight="normal" fill="#2e2e2e" stroke="#2e2e2e" stroke-width="0.12">0.5</text>
<line x1="189.40" y1="347.80" x2="191.70" y2="347.80" stroke="#444" stroke-width="0.8"/>
<text x="187.90" y="349.53" font-size="4.8" text-anchor="end" font-weight="normal" fill="#2e2e2e" stroke="#2e2e2e" stroke-width="0.12">1.0</text>
<line x1="189.40" y1="318.55" x2="191.70" y2="318.55" stroke="#444" stroke-width="0.8"/>
<text x="187.90" y="320.28" font-size="4.8" text-anchor="end" font-weight="normal" fill="#2e2e2e" stroke="#2e2e2e" stroke-width="0.12">1.5</text>
<line x1="189.40" y1="289.30" x2="191.70" y2="289.30" stroke="#444" stroke-width="0.8"/>
<text x="187.90" y="291.03" font-size="4.8" text-anchor="end" font-weight="normal" fill="#2e2e2e" stroke="#2e2e2e" stroke-width="0.12">2.0</text>
<text x="178.2" y="345.7" font-size="8.5" text-anchor="middle" font-weight="normal" fill="#3a3a3a" transform="rotate(-90 178.2 345.7)">dF/F</text>
<text transform="translate(214.40 412.95) scale(1 1.1)" font-size="5.7" text-anchor="middle" fill="#444">GCaMP</text>
<text transform="translate(244.40 412.95) scale(1 1.1)" font-size="5.6000000000000005" text-anchor="middle" fill="#444">GCaMP+PstI</text>
<text transform="translate(287.60 412.95) scale(1 1.1)" font-size="5.7" text-anchor="middle" fill="#444">GCaMP</text>
<text transform="translate(317.90 412.95) scale(1 1.1)" font-size="5.6000000000000005" text-anchor="middle" fill="#444">GCaMP+PstI</text>
<text x="230.20" y="420.6" font-size="8.2" text-anchor="middle" font-weight="normal" fill="#3a3a3a">HPC</text>
<path d="M206.50 415.40V418.20H219.34M241.06 418.20H254.00V415.40" fill="none" stroke="#4a4a4a" stroke-width="0.9"/>
<text x="302.70" y="420.6" font-size="8.2" text-anchor="middle" font-weight="normal" fill="#3a3a3a">DLS</text>
<path d="M279.60 415.40V418.20H291.84M313.56 418.20H327.10V415.40" fill="none" stroke="#4a4a4a" stroke-width="0.9"/>
<path d="M213.40 317.40V314.00H242.70V317.40" fill="none" stroke="#3a3a3a" stroke-width="0.9"/>
<text x="226.80" y="310.5" font-size="8.0" text-anchor="middle" font-weight="bold" fill="#333">*p = 0.002</text>
<path d="M285.40 324.80V321.40H314.60V324.80" fill="none" stroke="#3a3a3a" stroke-width="0.9"/>
<text x="299.70" y="317.6" font-size="8.0" text-anchor="middle" font-weight="bold" fill="#333">p = 0.416</text>
<text x="267.0" y="277.4" font-size="11.8" text-anchor="middle" font-weight="normal" fill="#333">Amplitude</text>
<rect x="376.65" y="400.06" width="18.60" height="6.24" fill="#c6c6c6" stroke="#8a8a8a" stroke-width="0.9"/>
<rect x="406.45" y="393.33" width="18.20" height="12.97" fill="#c6c6c6" stroke="#8a8a8a" stroke-width="0.9"/>
<rect x="449.95" y="376.64" width="18.70" height="29.66" fill="#c6c6c6" stroke="#8a8a8a" stroke-width="0.9"/>
<rect x="479.45" y="375.13" width="18.80" height="31.17" fill="#c6c6c6" stroke="#8a8a8a" stroke-width="0.9"/>
<rect x="385.25" y="395.75" width="1.4" height="1.4" fill="#333"/>
<rect x="385.25" y="396.89" width="1.4" height="1.4" fill="#333"/>
<rect x="385.25" y="397.89" width="1.4" height="1.4" fill="#333"/>
<rect x="385.25" y="398.90" width="1.4" height="1.4" fill="#333"/>
<rect x="385.25" y="399.90" width="1.4" height="1.4" fill="#333"/>
<rect x="385.25" y="400.91" width="1.4" height="1.4" fill="#333"/>
<rect x="385.25" y="401.91" width="1.4" height="1.4" fill="#333"/>
<rect x="385.25" y="402.38" width="1.4" height="1.4" fill="#333"/>
<rect x="382.25" y="399.23" width="1.4" height="1.4" fill="#333"/>
<rect x="388.25" y="399.23" width="1.4" height="1.4" fill="#333"/>
<rect x="414.90" y="361.08" width="1.3" height="1.3" fill="#f3f3f3" stroke="#d0d0d0" stroke-width="0.4"/>
<rect x="414.90" y="364.93" width="1.3" height="1.3" fill="#f3f3f3" stroke="#d0d0d0" stroke-width="0.4"/>
<rect x="414.90" y="377.40" width="1.3" height="1.3" fill="#f3f3f3" stroke="#d0d0d0" stroke-width="0.4"/>
<rect x="414.90" y="388.89" width="1.3" height="1.3" fill="#f3f3f3" stroke="#d0d0d0" stroke-width="0.4"/>
<rect x="414.90" y="392.24" width="1.3" height="1.3" fill="#f3f3f3" stroke="#d0d0d0" stroke-width="0.4"/>
<rect x="414.90" y="395.60" width="1.3" height="1.3" fill="#f3f3f3" stroke="#d0d0d0" stroke-width="0.4"/>
<rect x="414.90" y="397.27" width="1.3" height="1.3" fill="#f3f3f3" stroke="#d0d0d0" stroke-width="0.4"/>
<rect x="414.90" y="398.95" width="1.3" height="1.3" fill="#f3f3f3" stroke="#d0d0d0" stroke-width="0.4"/>
<rect x="414.90" y="400.62" width="1.3" height="1.3" fill="#f3f3f3" stroke="#d0d0d0" stroke-width="0.4"/>
<rect x="414.90" y="402.30" width="1.3" height="1.3" fill="#f3f3f3" stroke="#d0d0d0" stroke-width="0.4"/>
<path d="M458.40 348.01L460.20 348.01L459.30 346.41Z" fill="#333"/>
<path d="M458.40 364.44L460.20 364.44L459.30 362.84Z" fill="#333"/>
<path d="M458.40 366.62L460.20 366.62L459.30 365.02Z" fill="#333"/>
<path d="M458.40 372.15L460.20 372.15L459.30 370.55Z" fill="#333"/>
<path d="M458.40 375.16L460.20 375.16L459.30 373.56Z" fill="#333"/>
<path d="M458.40 377.51L460.20 377.51L459.30 375.91Z" fill="#333"/>
<path d="M458.40 380.86L460.20 380.86L459.30 379.26Z" fill="#333"/>
<path d="M458.40 383.88L460.20 383.88L459.30 382.28Z" fill="#333"/>
<path d="M458.40 389.24L460.20 389.24L459.30 387.64Z" fill="#333"/>
<path d="M458.40 392.92L460.20 392.92L459.30 391.32Z" fill="#333"/>
<path d="M451.00 377.94L452.80 377.94L451.90 376.34Z" fill="#333"/>
<path d="M466.40 378.51L468.20 378.51L467.30 376.91Z" fill="#333"/>
<path d="M487.85 300.47L489.85 300.47L488.85 298.72Z" fill="#f3f3f3" stroke="#d0d0d0" stroke-width="0.4"/>
<path d="M487.85 350.41L489.85 350.41L488.85 348.66Z" fill="#f3f3f3" stroke="#d0d0d0" stroke-width="0.4"/>
<path d="M487.85 359.46L489.85 359.46L488.85 357.71Z" fill="#f3f3f3" stroke="#d0d0d0" stroke-width="0.4"/>
<path d="M487.85 363.48L489.85 363.48L488.85 361.73Z" fill="#f3f3f3" stroke="#d0d0d0" stroke-width="0.4"/>
<path d="M487.85 369.18L489.85 369.18L488.85 367.43Z" fill="#f3f3f3" stroke="#d0d0d0" stroke-width="0.4"/>
<path d="M487.85 373.54L489.85 373.54L488.85 371.79Z" fill="#f3f3f3" stroke="#d0d0d0" stroke-width="0.4"/>
<path d="M487.85 376.89L489.85 376.89L488.85 375.14Z" fill="#f3f3f3" stroke="#d0d0d0" stroke-width="0.4"/>
<path d="M487.85 380.24L489.85 380.24L488.85 378.49Z" fill="#f3f3f3" stroke="#d0d0d0" stroke-width="0.4"/>
<path d="M487.85 383.59L489.85 383.59L488.85 381.84Z" fill="#f3f3f3" stroke="#d0d0d0" stroke-width="0.4"/>
<path d="M487.85 386.94L489.85 386.94L488.85 385.19Z" fill="#f3f3f3" stroke="#d0d0d0" stroke-width="0.4"/>
<path d="M487.85 390.29L489.85 390.29L488.85 388.54Z" fill="#f3f3f3" stroke="#d0d0d0" stroke-width="0.4"/>
<path d="M487.85 393.64L489.85 393.64L488.85 391.89Z" fill="#f3f3f3" stroke="#d0d0d0" stroke-width="0.4"/>
<path d="M487.85 400.35L489.85 400.35L488.85 398.60Z" fill="#f3f3f3" stroke="#d0d0d0" stroke-width="0.4"/>
<line x1="381.25" y1="398.59" x2="390.65" y2="398.59" stroke="#8a8a8a" stroke-width="0.8"/>
<line x1="381.25" y1="400.60" x2="390.65" y2="400.60" stroke="#9a9a9a" stroke-width="0.8"/>
<line x1="385.95" y1="400.60" x2="385.95" y2="398.59" stroke="#555" stroke-width="0.75"/>
<line x1="410.85" y1="389.71" x2="420.25" y2="389.71" stroke="#8a8a8a" stroke-width="0.8"/>
<line x1="410.85" y1="395.44" x2="420.25" y2="395.44" stroke="#9a9a9a" stroke-width="0.8"/>
<line x1="415.55" y1="395.44" x2="415.55" y2="389.71" stroke="#555" stroke-width="0.75"/>
<line x1="454.60" y1="373.46" x2="464.00" y2="373.46" stroke="#8a8a8a" stroke-width="0.8"/>
<line x1="454.60" y1="378.82" x2="464.00" y2="378.82" stroke="#9a9a9a" stroke-width="0.8"/>
<line x1="459.30" y1="378.82" x2="459.30" y2="373.46" stroke="#555" stroke-width="0.75"/>
<line x1="484.15" y1="371.28" x2="493.55" y2="371.28" stroke="#8a8a8a" stroke-width="0.8"/>
<line x1="484.15" y1="377.81" x2="493.55" y2="377.81" stroke="#9a9a9a" stroke-width="0.8"/>
<line x1="488.85" y1="377.81" x2="488.85" y2="371.28" stroke="#555" stroke-width="0.75"/>
<line x1="364.5" y1="288.7" x2="364.5" y2="406.8" stroke="#5a5a5a" stroke-width="1.0"/>
<line x1="364.0" y1="406.3" x2="509.2" y2="406.3" stroke="#555" stroke-width="1.0"/>
<line x1="362.20" y1="406.30" x2="364.50" y2="406.30" stroke="#444" stroke-width="0.8"/>
<text x="360.70" y="408.03" font-size="4.8" text-anchor="end" font-weight="normal" fill="#2e2e2e" stroke="#2e2e2e" stroke-width="0.12">0</text>
<line x1="362.20" y1="389.54" x2="364.50" y2="389.54" stroke="#444" stroke-width="0.8"/>
<text x="360.70" y="391.27" font-size="4.8" text-anchor="end" font-weight="normal" fill="#2e2e2e" stroke="#2e2e2e" stroke-width="0.12">5</text>
<line x1="362.20" y1="372.79" x2="364.50" y2="372.79" stroke="#444" stroke-width="0.8"/>
<text x="360.70" y="374.51" font-size="4.8" text-anchor="end" font-weight="normal" fill="#2e2e2e" stroke="#2e2e2e" stroke-width="0.12">10</text>
<line x1="362.20" y1="356.03" x2="364.50" y2="356.03" stroke="#444" stroke-width="0.8"/>
<text x="360.70" y="357.76" font-size="4.8" text-anchor="end" font-weight="normal" fill="#2e2e2e" stroke="#2e2e2e" stroke-width="0.12">15</text>
<line x1="362.20" y1="339.27" x2="364.50" y2="339.27" stroke="#444" stroke-width="0.8"/>
<text x="360.70" y="341.00" font-size="4.8" text-anchor="end" font-weight="normal" fill="#2e2e2e" stroke="#2e2e2e" stroke-width="0.12">20</text>
<line x1="362.20" y1="322.51" x2="364.50" y2="322.51" stroke="#444" stroke-width="0.8"/>
<text x="360.70" y="324.24" font-size="4.8" text-anchor="end" font-weight="normal" fill="#2e2e2e" stroke="#2e2e2e" stroke-width="0.12">25</text>
<line x1="362.20" y1="305.76" x2="364.50" y2="305.76" stroke="#444" stroke-width="0.8"/>
<text x="360.70" y="307.49" font-size="4.8" text-anchor="end" font-weight="normal" fill="#2e2e2e" stroke="#2e2e2e" stroke-width="0.12">30</text>
<line x1="362.20" y1="289.00" x2="364.50" y2="289.00" stroke="#444" stroke-width="0.8"/>
<text x="360.70" y="290.73" font-size="4.8" text-anchor="end" font-weight="normal" fill="#2e2e2e" stroke="#2e2e2e" stroke-width="0.12">35</text>
<text x="347.7" y="348.7" font-size="8.7" text-anchor="middle" font-weight="normal" fill="#3a3a3a" transform="rotate(-90 347.7 348.7)">Duration 50% - 50%</text>
<text transform="translate(385.80 412.95) scale(1 1.1)" font-size="5.7" text-anchor="middle" fill="#444">GCaMP</text>
<text transform="translate(415.50 412.95) scale(1 1.1)" font-size="5.6000000000000005" text-anchor="middle" fill="#444">GCaMP+PstI</text>
<text transform="translate(458.50 412.95) scale(1 1.1)" font-size="5.7" text-anchor="middle" fill="#444">GCaMP</text>
<text transform="translate(488.50 412.95) scale(1 1.1)" font-size="5.6000000000000005" text-anchor="middle" fill="#444">GCaMP+PstI</text>
<text x="400.00" y="420.6" font-size="8.2" text-anchor="middle" font-weight="normal" fill="#3a3a3a">HPC</text>
<path d="M376.50 415.40V418.20H389.14M410.86 418.20H423.60V415.40" fill="none" stroke="#4a4a4a" stroke-width="0.9"/>
<text x="473.40" y="420.6" font-size="8.2" text-anchor="middle" font-weight="normal" fill="#3a3a3a">DLS</text>
<path d="M450.00 415.40V418.20H462.54M484.26 418.20H497.50V415.40" fill="none" stroke="#4a4a4a" stroke-width="0.9"/>
<path d="M386.30 358.80V355.40H415.40V358.80" fill="none" stroke="#3a3a3a" stroke-width="0.9"/>
<text x="401.10" y="352.8" font-size="8.0" text-anchor="middle" font-weight="bold" fill="#333">p = 0.149</text>
<path d="M458.30 298.00V294.60H487.60V298.00" fill="none" stroke="#3a3a3a" stroke-width="0.9"/>
<text x="473.50" y="291.0" font-size="8.0" text-anchor="middle" font-weight="bold" fill="#333">p = 0.757</text>
<text x="435" y="278.0" font-size="12.1" text-anchor="middle" font-weight="normal" fill="#333">Duration</text>
<rect x="548.25" y="367.60" width="18.40" height="38.70" fill="#c6c6c6" stroke="#8a8a8a" stroke-width="0.9"/>
<rect x="577.55" y="355.18" width="18.40" height="51.12" fill="#c6c6c6" stroke="#8a8a8a" stroke-width="0.9"/>
<rect x="621.35" y="382.36" width="18.20" height="23.94" fill="#c6c6c6" stroke="#8a8a8a" stroke-width="0.9"/>
<rect x="650.65" y="388.32" width="18.20" height="17.98" fill="#c6c6c6" stroke="#8a8a8a" stroke-width="0.9"/>
<rect x="556.75" y="329.36" width="1.4" height="1.4" fill="#333"/>
<rect x="556.75" y="339.13" width="1.4" height="1.4" fill="#333"/>
<rect x="556.75" y="355.55" width="1.4" height="1.4" fill="#333"/>
<rect x="556.75" y="380.97" width="1.4" height="1.4" fill="#333"/>
<rect x="556.75" y="387.52" width="1.4" height="1.4" fill="#333"/>
<rect x="556.75" y="391.97" width="1.4" height="1.4" fill="#333"/>
<rect x="553.75" y="359.17" width="1.4" height="1.4" fill="#333"/>
<rect x="560.35" y="361.03" width="1.4" height="1.4" fill="#333"/>
<rect x="586.10" y="294.41" width="1.3" height="1.3" fill="#f3f3f3" stroke="#d0d0d0" stroke-width="0.4"/>
<rect x="586.10" y="298.32" width="1.3" height="1.3" fill="#f3f3f3" stroke="#d0d0d0" stroke-width="0.4"/>
<rect x="586.10" y="306.53" width="1.3" height="1.3" fill="#f3f3f3" stroke="#d0d0d0" stroke-width="0.4"/>
<rect x="586.10" y="319.24" width="1.3" height="1.3" fill="#f3f3f3" stroke="#d0d0d0" stroke-width="0.4"/>
<rect x="586.10" y="333.32" width="1.3" height="1.3" fill="#f3f3f3" stroke="#d0d0d0" stroke-width="0.4"/>
<rect x="586.10" y="339.18" width="1.3" height="1.3" fill="#f3f3f3" stroke="#d0d0d0" stroke-width="0.4"/>
<rect x="586.10" y="341.13" width="1.3" height="1.3" fill="#f3f3f3" stroke="#d0d0d0" stroke-width="0.4"/>
<rect x="586.10" y="372.42" width="1.3" height="1.3" fill="#f3f3f3" stroke="#d0d0d0" stroke-width="0.4"/>
<rect x="586.10" y="378.28" width="1.3" height="1.3" fill="#f3f3f3" stroke="#d0d0d0" stroke-width="0.4"/>
<rect x="586.10" y="384.15" width="1.3" height="1.3" fill="#f3f3f3" stroke="#d0d0d0" stroke-width="0.4"/>
<rect x="586.10" y="390.01" width="1.3" height="1.3" fill="#f3f3f3" stroke="#d0d0d0" stroke-width="0.4"/>
<rect x="586.10" y="395.88" width="1.3" height="1.3" fill="#f3f3f3" stroke="#d0d0d0" stroke-width="0.4"/>
<rect x="586.10" y="399.79" width="1.3" height="1.3" fill="#f3f3f3" stroke="#d0d0d0" stroke-width="0.4"/>
<path d="M629.55 362.43L631.35 362.43L630.45 360.83Z" fill="#333"/>
<path d="M629.55 368.88L631.35 368.88L630.45 367.28Z" fill="#333"/>
<path d="M629.55 372.01L631.35 372.01L630.45 370.41Z" fill="#333"/>
<path d="M629.55 374.94L631.35 374.94L630.45 373.34Z" fill="#333"/>
<path d="M629.55 385.69L631.35 385.69L630.45 384.09Z" fill="#333"/>
<path d="M629.55 390.38L631.35 390.38L630.45 388.78Z" fill="#333"/>
<path d="M629.55 392.73L631.35 392.73L630.45 391.13Z" fill="#333"/>
<path d="M629.55 399.96L631.35 399.96L630.45 398.36Z" fill="#333"/>
<path d="M629.55 402.31L631.35 402.31L630.45 400.71Z" fill="#333"/>
<path d="M623.05 382.76L624.85 382.76L623.95 381.16Z" fill="#333"/>
<path d="M658.75 331.59L660.75 331.59L659.75 329.84Z" fill="#f3f3f3" stroke="#d0d0d0" stroke-width="0.4"/>
<path d="M658.75 373.81L660.75 373.81L659.75 372.06Z" fill="#f3f3f3" stroke="#d0d0d0" stroke-width="0.4"/>
<path d="M658.75 378.51L660.75 378.51L659.75 376.76Z" fill="#f3f3f3" stroke="#d0d0d0" stroke-width="0.4"/>
<path d="M658.75 382.03L660.75 382.03L659.75 380.28Z" fill="#f3f3f3" stroke="#d0d0d0" stroke-width="0.4"/>
<path d="M658.75 384.37L660.75 384.37L659.75 382.62Z" fill="#f3f3f3" stroke="#d0d0d0" stroke-width="0.4"/>
<path d="M658.75 391.41L660.75 391.41L659.75 389.66Z" fill="#f3f3f3" stroke="#d0d0d0" stroke-width="0.4"/>
<path d="M658.75 393.37L660.75 393.37L659.75 391.62Z" fill="#f3f3f3" stroke="#d0d0d0" stroke-width="0.4"/>
<path d="M658.75 395.32L660.75 395.32L659.75 393.57Z" fill="#f3f3f3" stroke="#d0d0d0" stroke-width="0.4"/>
<path d="M658.75 397.28L660.75 397.28L659.75 395.53Z" fill="#f3f3f3" stroke="#d0d0d0" stroke-width="0.4"/>
<path d="M658.75 399.23L660.75 399.23L659.75 397.48Z" fill="#f3f3f3" stroke="#d0d0d0" stroke-width="0.4"/>
<path d="M658.75 401.19L660.75 401.19L659.75 399.44Z" fill="#f3f3f3" stroke="#d0d0d0" stroke-width="0.4"/>
<path d="M658.75 403.14L660.75 403.14L659.75 401.39Z" fill="#f3f3f3" stroke="#d0d0d0" stroke-width="0.4"/>
<line x1="552.75" y1="359.26" x2="562.15" y2="359.26" stroke="#777" stroke-width="0.8"/>
<line x1="552.75" y1="374.24" x2="562.15" y2="374.24" stroke="#d8d8d8" stroke-width="0.8"/>
<line x1="557.45" y1="374.24" x2="557.45" y2="359.26" stroke="#555" stroke-width="0.75"/>
<line x1="582.05" y1="346.67" x2="591.45" y2="346.67" stroke="#777" stroke-width="0.8"/>
<line x1="582.05" y1="362.90" x2="591.45" y2="362.90" stroke="#d8d8d8" stroke-width="0.8"/>
<line x1="586.75" y1="362.90" x2="586.75" y2="346.67" stroke="#555" stroke-width="0.75"/>
<line x1="625.75" y1="379.52" x2="635.15" y2="379.52" stroke="#777" stroke-width="0.8"/>
<line x1="625.75" y1="384.99" x2="635.15" y2="384.99" stroke="#d8d8d8" stroke-width="0.8"/>
<line x1="630.45" y1="384.99" x2="630.45" y2="379.52" stroke="#555" stroke-width="0.75"/>
<line x1="655.05" y1="386.16" x2="664.45" y2="386.16" stroke="#777" stroke-width="0.8"/>
<line x1="655.05" y1="390.17" x2="664.45" y2="390.17" stroke="#d8d8d8" stroke-width="0.8"/>
<line x1="659.75" y1="390.17" x2="659.75" y2="386.16" stroke="#555" stroke-width="0.75"/>
<line x1="535.5" y1="288.7" x2="535.5" y2="406.8" stroke="#6a6a6a" stroke-width="1.0"/>
<line x1="535.0" y1="406.3" x2="680.4" y2="406.3" stroke="#555" stroke-width="1.0"/>
<line x1="533.20" y1="406.30" x2="535.50" y2="406.30" stroke="#444" stroke-width="0.8"/>
<text x="531.70" y="408.03" font-size="4.8" text-anchor="end" font-weight="normal" fill="#2e2e2e" stroke="#2e2e2e" stroke-width="0.12">0</text>
<line x1="533.20" y1="386.75" x2="535.50" y2="386.75" stroke="#444" stroke-width="0.8"/>
<text x="531.70" y="388.48" font-size="4.8" text-anchor="end" font-weight="normal" fill="#2e2e2e" stroke="#2e2e2e" stroke-width="0.12">10</text>
<line x1="533.20" y1="367.20" x2="535.50" y2="367.20" stroke="#444" stroke-width="0.8"/>
<text x="531.70" y="368.93" font-size="4.8" text-anchor="end" font-weight="normal" fill="#2e2e2e" stroke="#2e2e2e" stroke-width="0.12">20</text>
<line x1="533.20" y1="347.65" x2="535.50" y2="347.65" stroke="#444" stroke-width="0.8"/>
<text x="531.70" y="349.38" font-size="4.8" text-anchor="end" font-weight="normal" fill="#2e2e2e" stroke="#2e2e2e" stroke-width="0.12">30</text>
<line x1="533.20" y1="328.10" x2="535.50" y2="328.10" stroke="#444" stroke-width="0.8"/>
<text x="531.70" y="329.83" font-size="4.8" text-anchor="end" font-weight="normal" fill="#2e2e2e" stroke="#2e2e2e" stroke-width="0.12">40</text>
<line x1="533.20" y1="308.55" x2="535.50" y2="308.55" stroke="#444" stroke-width="0.8"/>
<text x="531.70" y="310.28" font-size="4.8" text-anchor="end" font-weight="normal" fill="#2e2e2e" stroke="#2e2e2e" stroke-width="0.12">50</text>
<line x1="533.20" y1="289.00" x2="535.50" y2="289.00" stroke="#444" stroke-width="0.8"/>
<text x="531.70" y="290.73" font-size="4.8" text-anchor="end" font-weight="normal" fill="#2e2e2e" stroke="#2e2e2e" stroke-width="0.12">60</text>
<text x="520.5" y="343.8" font-size="8.75" text-anchor="middle" font-weight="normal" fill="#3a3a3a" transform="rotate(-90 520.5 343.8)">Distance (μm)</text>
<text transform="translate(556.90 412.95) scale(1 1.1)" font-size="5.7" text-anchor="middle" fill="#444">GCaMP</text>
<text transform="translate(586.60 412.95) scale(1 1.1)" font-size="5.6000000000000005" text-anchor="middle" fill="#444">GCaMP+PstI</text>
<text transform="translate(629.90 412.95) scale(1 1.1)" font-size="5.7" text-anchor="middle" fill="#444">GCaMP</text>
<text transform="translate(659.90 412.95) scale(1 1.1)" font-size="5.6000000000000005" text-anchor="middle" fill="#444">GCaMP+PstI</text>
<text x="571.90" y="420.6" font-size="8.2" text-anchor="middle" font-weight="normal" fill="#3a3a3a">HPC</text>
<path d="M548.10 415.40V418.20H561.04M582.76 418.20H595.60V415.40" fill="none" stroke="#4a4a4a" stroke-width="0.9"/>
<text x="643.90" y="420.6" font-size="8.2" text-anchor="middle" font-weight="normal" fill="#3a3a3a">DLS</text>
<path d="M621.20 415.40V418.20H633.04M654.76 418.20H668.50V415.40" fill="none" stroke="#4a4a4a" stroke-width="0.9"/>
<path d="M556.20 293.80V290.40H585.30V293.80" fill="none" stroke="#3a3a3a" stroke-width="0.9"/>
<text x="571.00" y="287.8" font-size="8.0" text-anchor="middle" font-weight="bold" fill="#333">p = 0.343</text>
<path d="M629.10 326.90V323.50H658.10V326.90" fill="none" stroke="#3a3a3a" stroke-width="0.9"/>
<text x="643.20" y="320" font-size="8.0" text-anchor="middle" font-weight="bold" fill="#333">*p = 0.044</text>
<text x="610.8" y="279.4" font-size="12.15" text-anchor="middle" font-weight="normal" fill="#333">Propagation Distance</text>
</svg></body></html>
